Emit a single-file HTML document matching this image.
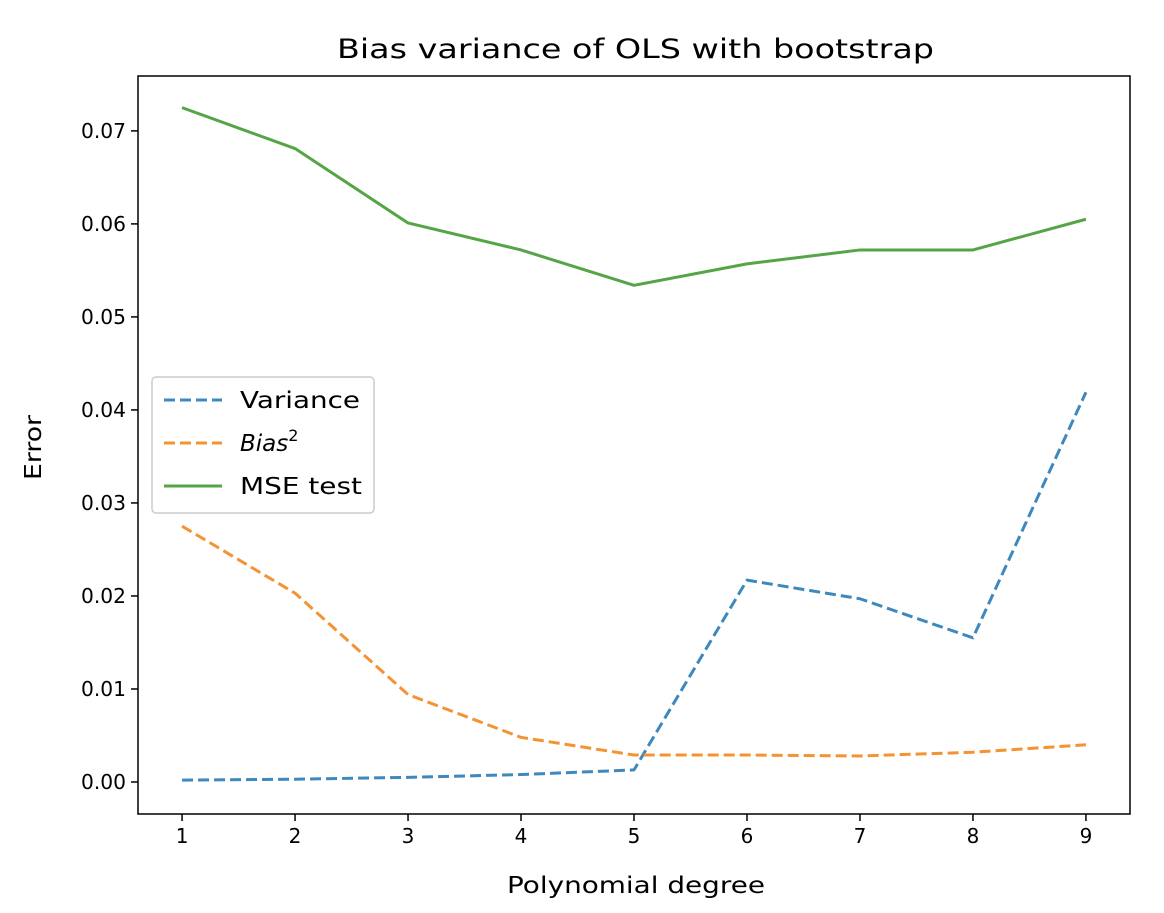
<!DOCTYPE html>
<html><head><meta charset="utf-8"><style>
body{margin:0;background:#fff;}
svg text{font-family:"DejaVu Sans","Liberation Sans",sans-serif;fill:#000;}
</style></head><body>
<svg id="chart" width="1164" height="908" xmlns="http://www.w3.org/2000/svg">
<rect width="1164" height="908" fill="#fff"/>
<g id="plot"></g>
</svg>
<script>
const degrees=[1,2,3,4,5,6,7,8,9];
const variance=[0.0002,0.0003,0.0005,0.0008,0.0013,0.0217,0.0197,0.0155,0.0419];
const bias2=[0.0275,0.0203,0.0094,0.0048,0.0029,0.0029,0.0028,0.0032,0.0040];
const mseTest=[0.0725,0.0681,0.0601,0.0572,0.0534,0.0557,0.0572,0.0572,0.0605];
const yTicks=[0,0.01,0.02,0.03,0.04,0.05,0.06,0.07];
const yTickLabels=["0.00","0.01","0.02","0.03","0.04","0.05","0.06","0.07"];
const xTicks=[1,2,3,4,5,6,7,8,9];

const L=138,R=1130,T=76,B=814;
const xMin=0.61,xMax=9.39,yMin=-0.00344,yMax=0.0759;
const xs=v=>L+(v-xMin)/(xMax-xMin)*(R-L);
const ys=v=>B-(v-yMin)/(yMax-yMin)*(B-T);
const NS="http://www.w3.org/2000/svg";
const g=document.getElementById('plot');
function mk(tag,attrs,parent){const e=document.createElementNS(NS,tag);for(const k in attrs)e.setAttribute(k,attrs[k]);(parent||g).appendChild(e);return e;}

yTicks.forEach((v,i)=>{
  const y=ys(v);
  const t=mk('line',{x1:L-7,x2:L,y1:y,y2:y,stroke:'#000','stroke-width':1.5});
  
  
  const tx=mk('text',{x:L-12,y:y+7,'text-anchor':'end','font-size':20,textLength:45,lengthAdjust:'spacingAndGlyphs'});
  tx.textContent=yTickLabels[i];
  
  
});
xTicks.forEach(v=>{
  const x=xs(v);
  const t=mk('line',{x1:x,x2:x,y1:B,y2:B+7,stroke:'#000','stroke-width':1.5});
  
  
  const tx=mk('text',{x:x,y:B+29,'text-anchor':'middle','font-size':20});
  tx.textContent=v;
  
  
});

function series(vals,color,dash,name){
  const p=mk('polyline',{points:vals.map((v,i)=>xs(degrees[i])+','+ys(v)).join(' '),fill:'none',stroke:color,'stroke-width':3,'stroke-dasharray':dash||'none','stroke-linejoin':'round'});
  
  
}
series(variance,'#3d89be','11,5','variance-line');
series(bias2,'#f39333','11,5','bias2-line');
series(mseTest,'#55a546',null,'mse-test-line');

const frame=mk('rect',{x:L,y:T,width:R-L,height:B-T,fill:'none',stroke:'#000','stroke-width':1.5});



const title=mk('text',{x:337,y:58,'font-size':27,textLength:597,lengthAdjust:'spacingAndGlyphs'});
title.textContent='Bias variance of OLS with bootstrap';


const xl=mk('text',{x:507,y:893,'font-size':23,textLength:258,lengthAdjust:'spacingAndGlyphs'});
xl.textContent='Polynomial degree';


const yl=mk('text',{x:0,y:0,'font-size':23,textLength:65,lengthAdjust:'spacingAndGlyphs',transform:'translate(41 480) rotate(-90)'});
yl.textContent='Error';



const lg=mk('g',{});


mk('rect',{x:152,y:377,width:222,height:136,rx:4,fill:'#fff','fill-opacity':0.8,stroke:'#ccc','stroke-width':1.5},lg);
const entries=[['Variance','#3d89be','11,5',400,120],['Bias2','#f39333','11,5',443,0],['MSE test','#55a546',null,486,122]];
entries.forEach(([lab,c,d,y,w])=>{
  const e=mk('g',{},lg);
  
  
  mk('line',{x1:164,x2:222,y1:y,y2:y,stroke:c,'stroke-width':3,'stroke-dasharray':d||'none'},e);
  const t=mk('text',{x:240,y:y+8,'font-size':23},e);
  if(lab==='Bias2'){
    t.innerHTML='<tspan font-style="italic">Bias</tspan><tspan font-size="16" dy="-10">2</tspan>';
  } else {t.textContent=lab;t.setAttribute('textLength',w);t.setAttribute('lengthAdjust','spacingAndGlyphs');}
});
</script>
</body></html>
